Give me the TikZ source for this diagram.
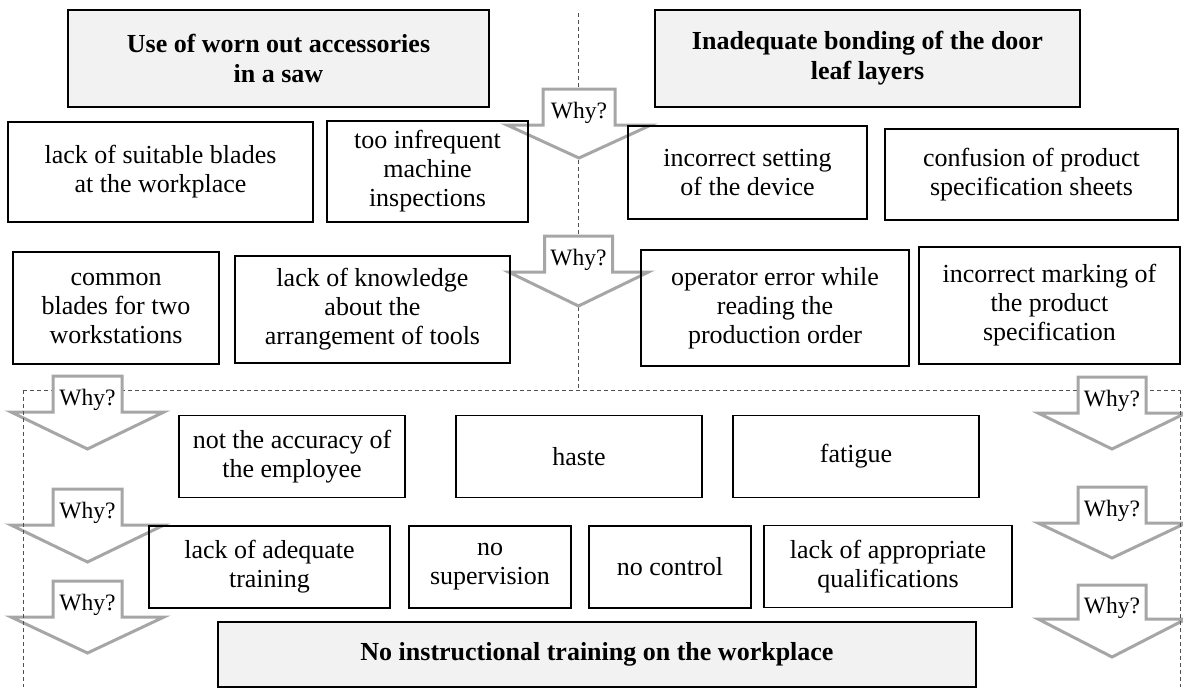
\documentclass[tikz,border=0pt]{standalone}
\usepackage{fontspec}
\setmainfont{Liberation Serif}
\definecolor{arrowgray}{HTML}{A6A6A6}
\definecolor{hdrfill}{HTML}{F2F2F2}
\definecolor{dashgray}{HTML}{505050}
\tikzset{
  box/.style={draw=black, line width=1.3pt, align=center, inner sep=0pt, font=\fontsize{26}{29}\selectfont},
  hdr/.style={box, fill=hdrfill, font=\bfseries\fontsize{26}{30}\selectfont},
  whyshape/.style={draw=arrowgray, line width=3pt, fill=white, line join=miter},
  whytext/.style={inner sep=0pt, font=\fontsize{23.5}{25}\selectfont},
  sepline/.style={draw=dashgray, line width=0.9pt, dash pattern=on 4pt off 3pt},
}
% #1 name, #2 cx, #3 top, #4 shoulder, #5 tip, #6 rect half width, #7 head half width
\newcommand{\whyarr}[7]{%
  \draw[whyshape] ({#2-#6},#3) -- ({#2+#6},#3) -- ({#2+#6},#4) -- ({#2+#7},#4) -- (#2,#5) -- ({#2-#7},#4) -- ({#2-#6},#4) -- cycle;
  \node[whytext] (#1) at (#2,{(#3+#4)/2+6}) {Why?};}
\begin{document}
\begin{tikzpicture}[x=1pt,y=-1pt]
\useasboundingbox (0,0) rectangle (1183,691);
% separator lines (behind)
\coordinate (mtop) at (578.5,13);
\coordinate (mbot) at (578.5,390);
\coordinate (hl) at (23,390);
\coordinate (hr) at (1180,390);
\coordinate (lb) at (23,687);
\coordinate (rb) at (1180,687);
\draw[sepline] (mtop) -- (mbot);
\draw[sepline] (hl) -- (hr);
% arrows
\whyarr{w1}{579}{89}{125}{158}{36}{72}
\whyarr{w2}{578.5}{236}{272}{306}{34}{70}
\whyarr{wl1}{87.5}{376}{412}{449}{34.5}{76.5}
\whyarr{wl2}{87.5}{489}{525}{562}{34.5}{76.5}
\whyarr{wl3}{87.5}{581}{617}{653}{34.5}{76.5}
\whyarr{wr1}{1112}{377}{413}{449}{34}{74}
\whyarr{wr2}{1112}{487}{523}{558}{34}{74}
\whyarr{wr3}{1112}{585}{619}{657}{34}{74}
\draw[sepline] (hl) -- (lb);
\draw[sepline] (hr) -- (rb);
% headers
\node[hdr, minimum width=421pt, minimum height=97pt] (h1) at (278.5,58.5) {Use of worn out accessories\\in a saw};
\node[hdr, minimum width=425pt, minimum height=97pt] (h2) at (867.5,58.5) {Inadequate bonding of the door\\leaf layers};
% row 1
\node[box, minimum width=305pt, minimum height=100pt] (r1a) at (160.5,172) {lack of suitable blades\\at the workplace};
\node[box, minimum width=201pt, minimum height=101pt] (r1b) at (427.5,171.5) {too infrequent\\machine\\inspections};
\node[box, minimum width=239pt, minimum height=93pt] (r1c) at (747.5,172.5) {incorrect setting\\of the device};
\node[box, minimum width=293pt, minimum height=91pt] (r1d) at (1031.5,174.5) {confusion of product\\specification sheets};
% row 2
\node[box, minimum width=206pt, minimum height=112pt] (r2a) at (116,308) {common\\blades for two\\workstations};
\node[box, minimum width=275pt, minimum height=107pt] (r2b) at (372.5,309.5) {lack of knowledge\\about the\\arrangement of tools};
\node[box, minimum width=268pt, minimum height=116pt] (r2c) at (775,308) {operator error while\\reading the\\production order};
\node[box, minimum width=261pt, minimum height=117pt] (r2d) at (1049.5,305.5) {incorrect marking of\\the product\\specification};
% row 3
\node[box, minimum width=226pt, minimum height=82pt] (r3a) at (292,456.5) {not the accuracy of\\the employee};
\node[box, minimum width=246pt, minimum height=82pt] (r3b) at (579,456.5) {haste};
\node[box, minimum width=246pt, minimum height=82pt] (r3c) at (856,456.5) {fatigue};
% row 4
\node[box, minimum width=241pt, minimum height=82pt] (r4a) at (269.5,567) {lack of adequate\\training};
\node[box, minimum width=162pt, minimum height=82pt] (r4b) at (490,567) {no\\supervision};
\node[box, minimum width=162pt, minimum height=82pt] (r4c) at (670,567) {no control};
\node[box, minimum width=248pt, minimum height=82pt] (r4d) at (888,566.5) {lack of appropriate\\qualifications};
% bottom
\node[hdr, minimum width=758pt, minimum height=65pt] (bot) at (597,654.5) {No instructional training on the workplace};
\end{tikzpicture}
\end{document}
